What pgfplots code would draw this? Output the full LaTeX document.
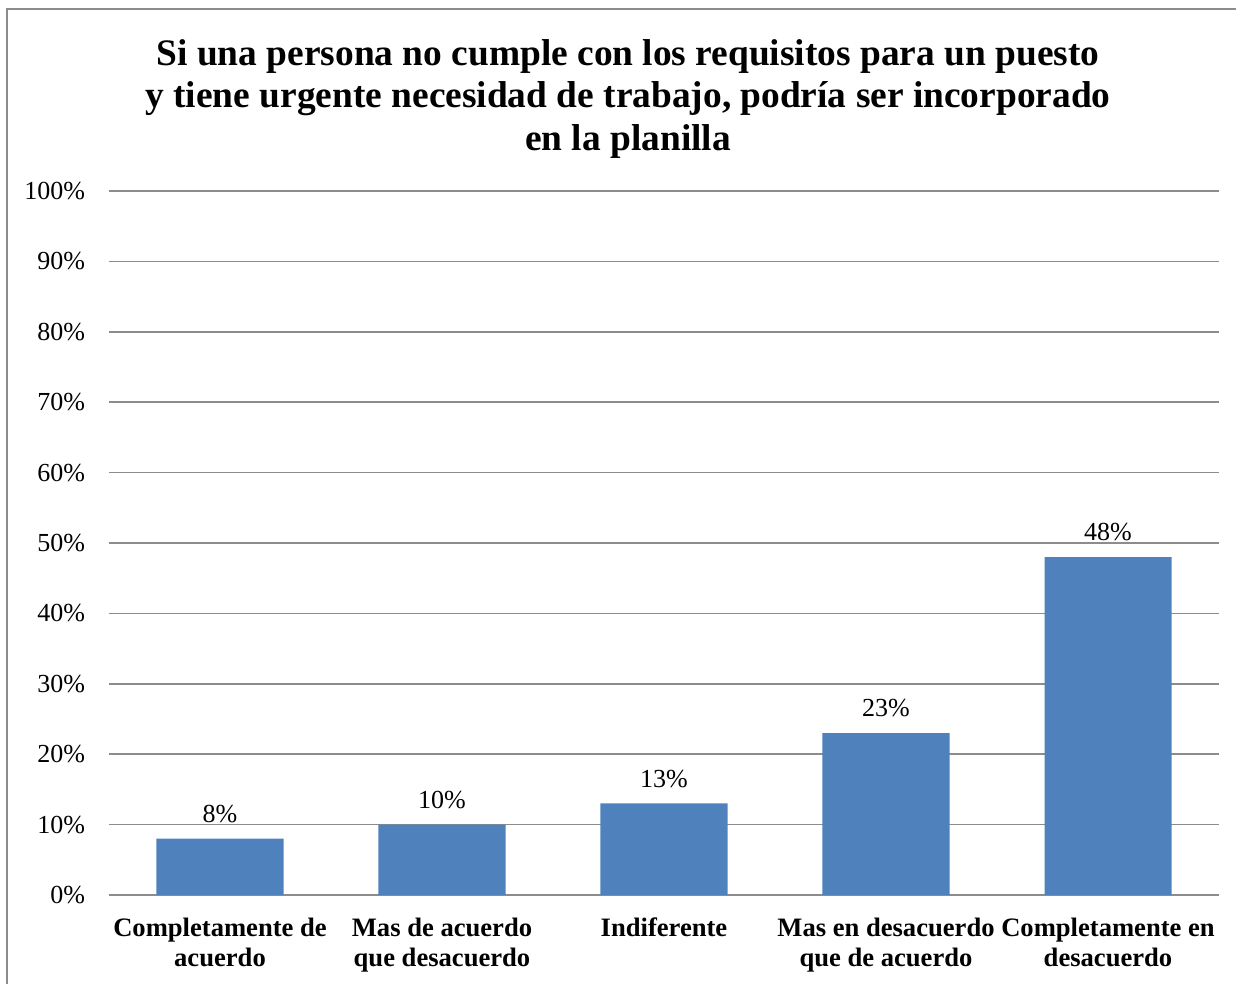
\documentclass[border=0pt]{standalone}
\usepackage{fontspec}
\setmainfont{Liberation Serif}
\usepackage{pgfplots}
\pgfplotsset{compat=1.18}
\definecolor{barblue}{HTML}{4F81BD}
\definecolor{gridgray}{HTML}{8C8C8C}
\begin{document}
\begin{tikzpicture}
  % outer chart frame (cropped at right and bottom)
  \draw[gridgray, line width=0.8pt] (3.5pt,-20pt) -- (3.5pt,487.5pt) -- (640pt,487.5pt);
  \node[align=center, font=\fontsize{18.7}{21.3}\selectfont\bfseries] at (314pt,442.5pt)
    {Si una persona no cumple con los requisitos para un puesto\\
     y tiene urgente necesidad de trabajo, podría ser incorporado\\
     en la planilla};
  \begin{axis}[
      at={(54.5pt,44.5pt)}, anchor=south west,
      scale only axis, width=555pt, height=352pt,
      ymin=0, ymax=100, ytick={0,10,...,100},
      xmin=-0.5, xmax=4.5, xtick=data,
      xticklabels={Completamente de\\acuerdo, Mas de acuerdo\\que desacuerdo, Indiferente,
                   Mas en desacuerdo\\que de acuerdo, Completamente en\\desacuerdo},
      xticklabel style={align=center, font=\fontsize{13.3}{15}\selectfont\bfseries},
      xticklabel shift=8pt,
      yticklabel={\pgfmathparse{int(\tick)}\pgfmathresult\%},
      yticklabel style={font=\fontsize{13}{15}\selectfont},
      yticklabel shift=8.5pt,
      axis line style={draw=none},
      major tick length=0pt,
      ymajorgrids, grid style={gridgray, line width=0.8pt},
      ybar, bar width=63.5pt,
      nodes near coords={\pgfmathprintnumber{\pgfplotspointmeta}\%},
      nodes near coords style={font=\fontsize{13}{15}\selectfont, yshift=4.5pt,
        /pgf/number format/assume math mode=true},
    ]
    \addplot[fill=barblue, draw=none] coordinates {(0,8) (1,10) (2,13) (3,23) (4,48)};
  \end{axis}
  \pgfresetboundingbox
  \path[use as bounding box] (0,0) rectangle (618pt,492pt);
\end{tikzpicture}
\end{document}
